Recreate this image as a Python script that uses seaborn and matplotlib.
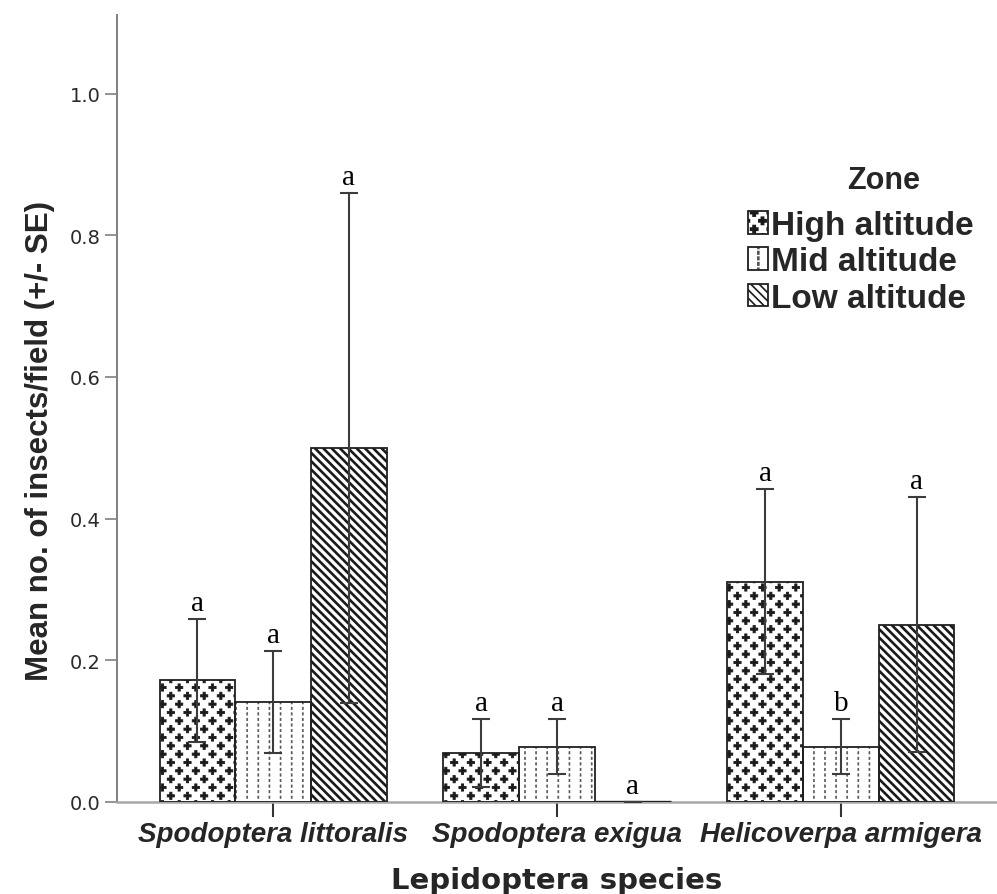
import numpy as np
import pandas as pd
import matplotlib
matplotlib.use("Agg")
import matplotlib.pyplot as plt
import seaborn as sns
from matplotlib.patches import Patch, Rectangle
from matplotlib.path import Path
from matplotlib.legend_handler import HandlerTuple
from matplotlib.font_manager import FontProperties
from matplotlib import hatch as mhatch

# ---- data -------------------------------------------------------------
species = ["Spodoptera littoralis", "Spodoptera exigua", "Helicoverpa armigera"]
zones = ["High altitude", "Mid altitude", "Low altitude"]

mean_high = [0.172, 0.069, 0.311]
mean_mid = [0.141, 0.078, 0.078]
mean_low = [0.500, 0.000, 0.250]

se_high = [0.087, 0.048, 0.131]
se_mid = [0.072, 0.039, 0.039]
se_low = [0.360, 0.000, 0.180]

letters_high = ["a", "a", "a"]
letters_mid = ["a", "a", "b"]
letters_low = ["a", "a", "a"]

y_ticks = [0.0, 0.2, 0.4, 0.6, 0.8, 1.0]


# ---- custom fill patterns (plus signs and dotted columns) ---------------
class _LatticeHatch(mhatch.HatchPatternBase):
    key = ""
    ncols = 1
    nrows = 1
    stagger = False
    shape = np.zeros((1, 2))
    shape_codes = np.array([Path.MOVETO], dtype=Path.code_type)

    def __init__(self, hatch, density):
        n = hatch.count(self.key) if self.key else 0
        self.num_vertices = self.ncols * self.nrows * len(self.shape) if n else 0

    def set_vertices_and_codes(self, vertices, codes):
        parts = []
        for r in range(self.nrows):
            y = (r + 0.5) / self.nrows
            shift = 0.5 / self.ncols if (self.stagger and r % 2) else 0.0
            for c in range(self.ncols):
                x = (c + 0.25) / self.ncols + shift
                parts.append(self.shape + [x, y])
        vertices[:] = np.concatenate(parts)
        codes[:] = np.tile(self.shape_codes, self.ncols * self.nrows)


def _poly_codes(n):
    c = np.full(n, Path.LINETO, dtype=Path.code_type)
    c[0] = Path.MOVETO
    c[-1] = Path.CLOSEPOLY
    return c


class _PlusHatch(_LatticeHatch):
    key = "*"
    ncols = 6
    nrows = 12
    stagger = True
    _a, _b = 0.036, 0.011
    shape = np.array([(-_b, -_a), (_b, -_a), (_b, -_b), (_a, -_b), (_a, _b),
                      (_b, _b), (_b, _a), (-_b, _a), (-_b, _b), (-_a, _b),
                      (-_a, -_b), (-_b, -_b), (-_b, -_a)], float)
    shape_codes = _poly_codes(13)


class _DotColumnHatch(_LatticeHatch):
    key = "."
    ncols = 9
    nrows = 18
    stagger = False
    _w, _h = 0.005, 0.012
    shape = np.array([(-_w, -_h), (_w, -_h), (_w, _h), (-_w, _h), (-_w, -_h)], float)
    shape_codes = _poly_codes(5)


try:
    mhatch._hatch_types = [
        (_PlusHatch if t is mhatch.Stars else
         _DotColumnHatch if t is mhatch.SmallFilledCircles else t)
        for t in mhatch._hatch_types
    ]
    pattern_high, pattern_mid = "*", "."
except Exception:
    pattern_high, pattern_mid = "+", "||"
pattern_low = "\\\\\\\\"

zone_style = {
    "High altitude": dict(hatch=pattern_high, hcolor="#1a1a1a", hlw=0.6),
    "Mid altitude": dict(hatch=pattern_mid, hcolor="#555555", hlw=0.45),
    "Low altitude": dict(hatch=pattern_low, hcolor="#1a1a1a", hlw=1.9),
}

# ---- theme & fonts ------------------------------------------------------
sns.set_theme(style="ticks")
plt.rcParams["font.family"] = ["Liberation Sans", "DejaVu Sans"]
plt.rcParams["hatch.linewidth"] = 1.2

# ---- long-form table -----------------------------------------------------
means = {"High altitude": mean_high, "Mid altitude": mean_mid, "Low altitude": mean_low}
ses = {"High altitude": se_high, "Mid altitude": se_mid, "Low altitude": se_low}
letters = {"High altitude": letters_high, "Mid altitude": letters_mid,
           "Low altitude": letters_low}
rows = []
for z in zones:
    for s, m, e, l in zip(species, means[z], ses[z], letters[z]):
        rows.append({"species": s, "zone": z, "mean": m, "se": e, "letter": l})
df = pd.DataFrame(rows)

W, H = 997, 895
fig = plt.figure(figsize=(W / 100, H / 100), dpi=100)
ax = fig.add_axes([117 / W, 92 / H, 880 / W, 787 / H])

sns.barplot(data=df, x="species", y="mean", hue="zone", order=species,
            hue_order=zones, palette=["white"] * 3, saturation=1,
            errorbar=None, width=0.8, linewidth=0, legend=False, ax=ax)

edge_col = "#202020"
edge_lw = 1.3

for zone, container in zip(zones, ax.containers):
    st = zone_style[zone]
    sub = df[df["zone"] == zone].set_index("species").loc[species]
    for bar, (_, r) in zip(container.patches, sub.iterrows()):
        bar.set_facecolor("white")
        bar.set_edgecolor(st["hcolor"])
        bar.set_linewidth(0)
        bar.set_hatch(st["hatch"])
        if hasattr(bar, "set_hatch_linewidth"):
            bar.set_hatch_linewidth(st["hlw"])
        x0, w, h = bar.get_x(), bar.get_width(), bar.get_height()
        if h > 0:
            ax.add_patch(Rectangle((x0, bar.get_y()), w, h, fill=False,
                                   edgecolor=edge_col, linewidth=edge_lw,
                                   zorder=3))
        else:
            # an empty bar collapses to a heavy line on the baseline
            ax.plot([x0, x0 + w], [0, 0], color=edge_col, lw=2.4,
                    solid_capstyle="butt", zorder=3)
        cx = x0 + w / 2
        ax.errorbar(cx, r["mean"], yerr=r["se"], fmt="none", ecolor="#3c3c3c",
                    elinewidth=1.5, capsize=6.8, capthick=1.5, zorder=4)
        ax.annotate(r["letter"], xy=(cx, r["mean"] + r["se"]),
                    xytext=(0, 6.5), textcoords="offset points",
                    ha="center", va="baseline", fontsize=21,
                    family=["Liberation Serif", "DejaVu Serif"], color="black")

# ---- axes ---------------------------------------------------------------
ax.set_xlim(-0.55, 2.55)
ax.set_ylim(0, 1.111)
ax.set_yticks(y_ticks)
ax.set_yticklabels([f"{t:.1f}" for t in y_ticks],
                   family=["DejaVu Sans"], fontsize=14, color="#2a2a2a")
ax.set_xticks(range(len(species)))
ax.set_xticklabels(species, fontproperties=FontProperties(
    family="Liberation Sans", weight="bold", style="italic", size=20))

for side in ("top", "right"):
    ax.spines[side].set_visible(False)
ax.spines["left"].set_color("#808080")
ax.spines["left"].set_linewidth(1.4)
ax.spines["bottom"].set_color("#a8a8a8")
ax.spines["bottom"].set_linewidth(1.8)
ax.spines["left"].set_zorder(2)
ax.spines["bottom"].set_zorder(2)

ax.tick_params(axis="y", length=9, width=1.2, color="#808080", pad=3)
ax.tick_params(axis="x", length=11, width=1.5, color="#333333", pad=3)

ax.set_xlabel("")
ax.set_ylabel("Mean no. of insects/field (+/- SE)", fontsize=22.5,
              fontweight="bold", va="center")
ax.yaxis.set_label_coords(-0.0875, 0.46)

fig.text((117 + W) / 2 / W, 6 / H, "Lepidoptera species", ha="center",
         va="baseline", fontsize=21, fontweight="bold", family=["DejaVu Sans"])

# ---- legend ---------------------------------------------------------------
handles = []
for z in zones:
    st = zone_style[z]
    fillp = Patch(facecolor="white", edgecolor=st["hcolor"], linewidth=0,
                  hatch=st["hatch"])
    if hasattr(fillp, "set_hatch_linewidth"):
        fillp.set_hatch_linewidth(st["hlw"])
    outline = Patch(facecolor="none", edgecolor=edge_col, linewidth=edge_lw)
    handles.append((fillp, outline))

ax.legend(handles=handles, labels=zones, loc="upper left",
          bbox_to_anchor=(748 / W, 1 - 211 / H), bbox_transform=fig.transFigure,
          frameon=False, prop=FontProperties(family="Liberation Sans",
                                             weight="bold", size=24),
          handlelength=0.6, handleheight=0.66, handletextpad=0.1,
          labelspacing=0.16, borderpad=0, borderaxespad=0,
          handler_map={tuple: HandlerTuple(ndivide=1, pad=0)})

fig.text(884 / W, 1 - 189 / H, "Zone", ha="center", va="baseline",
         fontsize=22, fontweight="bold")

fig.savefig("out.png", dpi=100)
